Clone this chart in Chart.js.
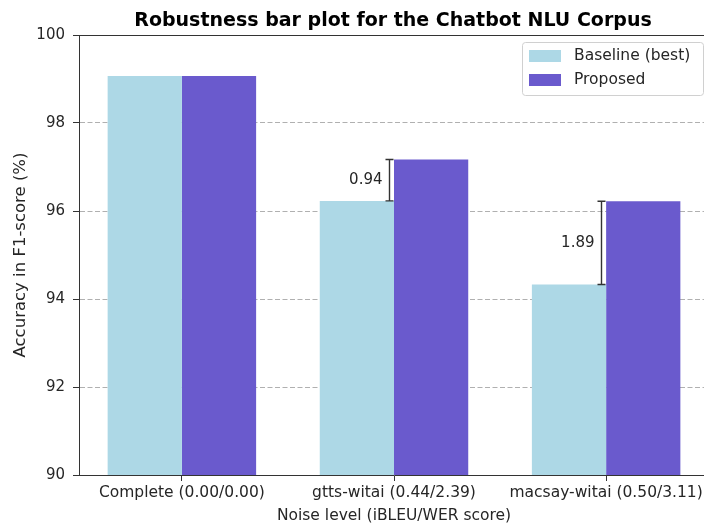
<!DOCTYPE html>
<html>
<head>
<meta charset="utf-8">
<script src="https://cdn.jsdelivr.net/npm/chart.js@4"></script>
<style>
  html, body { margin: 0; padding: 0; background: #fff; overflow: hidden; }
  #wrap { width: 712px; height: 527px; }
</style>
</head>
<body>
<div id="wrap"><canvas id="chart" width="712" height="527"></canvas></div>
<script>
// data
const categories = ['Complete (0.00/0.00)', 'gtts-witai (0.44/2.39)', 'macsay-witai (0.50/3.11)'];
const baseline = [99.07, 96.23, 94.33];
const proposed = [99.07, 97.17, 96.22];
const yTicks = [90, 92, 94, 96, 98, 100];
// gaps shown with the little error bars (only for the noisy sets)
const gapLabels = [null, '0.94', '1.89'];

const FONT = 'DejaVu Sans';
const TEXT = '#262626';
const AXIS = '#333333';

// title, top spine, gap markers and legend box
const extras = {
  id: 'extras',
  afterDatasetsDraw(chart) {
    const { ctx, chartArea: a, scales: { x, y } } = chart;
    ctx.save();

    // top spine
    ctx.strokeStyle = AXIS;
    ctx.lineWidth = 1;
    ctx.beginPath();
    ctx.moveTo(a.left, a.top + 0.5);
    ctx.lineTo(a.right, a.top + 0.5);
    ctx.stroke();

    // gap markers
    ctx.lineWidth = 1.4;
    ctx.fillStyle = TEXT;
    ctx.font = '15px ' + FONT;
    ctx.textAlign = 'right';
    ctx.textBaseline = 'middle';
    gapLabels.forEach((lab, i) => {
      if (!lab) return;
      const px = Math.round(x.getPixelForValue(i - 0.024)) + 0.5;
      const y0 = y.getPixelForValue(baseline[i]);
      const y1 = y.getPixelForValue(proposed[i]);
      ctx.beginPath();
      ctx.moveTo(px, y0); ctx.lineTo(px, y1);
      ctx.moveTo(px - 4, y0); ctx.lineTo(px + 4, y0);
      ctx.moveTo(px - 4, y1); ctx.lineTo(px + 4, y1);
      ctx.stroke();
      ctx.fillText(lab, px - 7, (y0 + y1) / 2);
    });

    // legend
    const lx = 522, ly = 42, lw = 181, lh = 53;
    ctx.fillStyle = 'rgba(255,255,255,0.8)';
    ctx.strokeStyle = '#d0d0d0';
    ctx.lineWidth = 1;
    ctx.beginPath();
    ctx.roundRect(lx + 0.5, ly + 0.5, lw, lh, 3);
    ctx.fill();
    ctx.stroke();
    ctx.textAlign = 'left';
    ctx.font = '15.5px ' + FONT;
    chart.data.datasets.forEach((ds, i) => {
      const ry = 50 + i * 24;
      ctx.fillStyle = ds.backgroundColor;
      ctx.fillRect(529, ry, 32, 12);
      ctx.fillStyle = TEXT;
      ctx.fillText(ds.label, 574, ry + 6);
    });

    // title
    ctx.fillStyle = '#000';
    ctx.font = 'bold 19px ' + FONT;
    ctx.textAlign = 'center';
    ctx.textBaseline = 'alphabetic';
    ctx.fillText('Robustness bar plot for the Chatbot NLU Corpus', 393, 26);
    ctx.restore();
  }
};

new Chart(document.getElementById('chart'), {
  type: 'bar',
  data: {
    datasets: [
      {
        label: 'Baseline (best)',
        data: baseline.map((v, i) => ({ x: i, y: v })),
        backgroundColor: '#ADD8E6',
      },
      {
        label: 'Proposed',
        data: proposed.map((v, i) => ({ x: i, y: v })),
        backgroundColor: '#6A5ACD',
      },
    ],
  },
  options: {
    responsive: false,
    animation: false,
    categoryPercentage: 0.7,
    barPercentage: 1.0,
    layout: { padding: { top: 35, right: 3, left: 0, bottom: 0 } },
    plugins: { legend: { display: false }, tooltip: { enabled: false }, title: { display: false } },
    scales: {
      x: {
        type: 'linear',
        min: -0.485,
        max: 2.485,
        offset: false,
        afterBuildTicks: (s) => { s.ticks = categories.map((c, i) => ({ value: i })); },
        afterFit: (s) => { s.height = 52; },
        ticks: {
          callback: (v) => categories[v],
          color: TEXT,
          font: { family: FONT, size: 15.5 },
          padding: 3,
          maxRotation: 0,
          autoSkip: false,
        },
        grid: { offset: false, drawOnChartArea: false, tickLength: 6, tickColor: AXIS, tickWidth: 1 },
        border: { color: AXIS, width: 1 },
        title: {
          display: true,
          text: 'Noise level (iBLEU/WER score)',
          color: TEXT,
          font: { family: FONT, size: 15.5 },
          padding: { top: 0, bottom: 2 },
        },
      },
      y: {
        min: 90,
        max: 100,
        afterBuildTicks: (s) => { s.ticks = yTicks.map((v) => ({ value: v })); },
        afterFit: (s) => { s.width = 79; },
        ticks: {
          color: TEXT,
          font: { family: FONT, size: 15 },
          padding: 8,
        },
        grid: {
          color: (c) => (c.tick && (c.tick.value === 90 || c.tick.value === 100) ? 'rgba(0,0,0,0)' : '#b0b0b0'),
          tickLength: 6,
          tickColor: AXIS,
          tickBorderDash: [],
          lineWidth: 1,
        },
        border: { color: AXIS, width: 1, dash: [5, 2.5] },
        title: {
          display: true,
          text: 'Accuracy in F1-score (%)',
          color: TEXT,
          font: { family: FONT, size: 16.5 },
          padding: { top: 11, bottom: 0 },
        },
      },
    },
  },
  plugins: [extras],
});
</script>
</body>
</html>
